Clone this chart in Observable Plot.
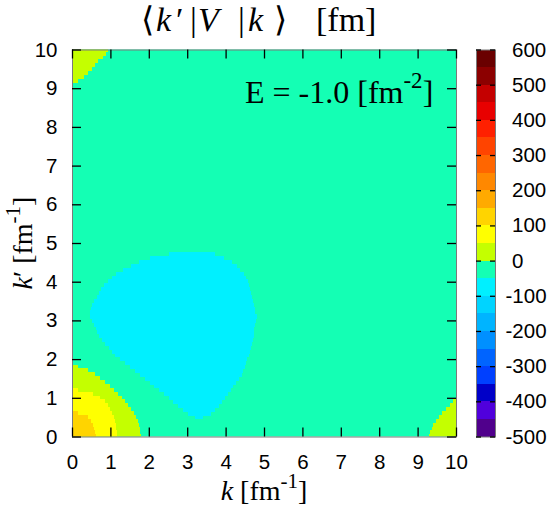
<!DOCTYPE html>
<html><head><meta charset="utf-8">
<script src="https://cdn.jsdelivr.net/npm/d3@7"></script>
<script src="https://cdn.jsdelivr.net/npm/@observablehq/plot@0.6"></script>
<style>
body{margin:0;background:#fff;}
#wrap{position:relative;width:548px;height:505px;overflow:hidden;background:#fff;}
#main,#cbar{position:absolute;top:0;}
#main{left:0}
#cbar{left:440px}
#over{position:absolute;left:0;top:0;pointer-events:none}
</style></head><body>
<div id="wrap"><div id="main"></div><div id="cbar"></div><svg id="over" width="548" height="505"></svg></div>
<script>
// ---- data ----
const xTicks = [0,1,2,3,4,5,6,7,8,9,10];
const yTicks = [0,1,2,3,4,5,6,7,8,9,10];
const cbTicks = [-500,-400,-300,-200,-100,0,100,200,300,400,500,600];
const bandEdges = [-500,-450,-400,-350,-300,-250,-200,-150,-100,-50,0,50,100,150,200,250,300,350,400,450,500,550,600];
const bandColors = ["#50008c","#5000dc","#0000c8","#0040ff","#0064ff","#0090ff","#00b4ff","#00d4ff","#00f0ff","#14ffb4",
  "#c4ff00","#ffff00","#ffd400","#ffaa00","#ff8800","#ff6600","#ff4400","#ff2000","#e80000","#c40000","#8c0000","#6a0000"];

// background band value (mint, -50..0)
const backgroundValue = -25;
// region values (band mid)
const cyanValue = -75, greenYellowValue = 25, yellowValue = 75, goldValue = 125;
// rows: [k', k from, k to]
const cyanRows = [
 [4.7,2.53,3.71],[4.6,2.05,3.96],[4.5,1.74,4.16],[4.4,1.54,4.28],[4.3,1.33,4.37],[4.2,1.15,4.46],[4.1,1.05,4.53],
 [4.0,0.95,4.57],[3.9,0.85,4.60],[3.8,0.77,4.64],[3.7,0.71,4.66],[3.6,0.65,4.68],[3.5,0.59,4.70],[3.4,0.54,4.73],
 [3.3,0.49,4.75],[3.2,0.47,4.77],[3.1,0.47,4.80],[3.0,0.52,4.78],[2.9,0.57,4.76],[2.8,0.62,4.74],[2.7,0.67,4.73],
 [2.6,0.72,4.72],[2.5,0.80,4.70],[2.4,0.88,4.69],[2.3,0.96,4.66],[2.2,1.04,4.63],[2.1,1.14,4.60],[2.0,1.27,4.56],
 [1.9,1.39,4.53],[1.8,1.52,4.49],[1.7,1.64,4.45],[1.6,1.77,4.41],[1.5,1.90,4.35],[1.4,2.03,4.27],[1.3,2.15,4.19],
 [1.2,2.28,4.12],[1.1,2.40,4.05],[1.0,2.53,3.97],[0.9,2.65,3.90],[0.8,2.78,3.81],[0.7,2.90,3.71],[0.6,3.03,3.60],[0.5,3.20,3.40]
];
const greenYellowRows = [
 [0.0,0,1.78],[0.1,0,1.77],[0.2,0,1.76],[0.3,0,1.74],[0.4,0,1.71],[0.5,0,1.66],[0.6,0,1.60],[0.7,0,1.54],[0.8,0,1.46],
 [0.9,0,1.38],[1.0,0,1.30],[1.1,0,1.20],[1.2,0,1.09],[1.3,0,0.97],[1.4,0,0.85],[1.5,0,0.71],[1.6,0,0.59],[1.7,0,0.42],[1.8,0,0.15],
 [9.2,0,0.15],[9.3,0,0.30],[9.4,0,0.40],[9.5,0,0.50],[9.6,0,0.58],[9.7,0,0.67],[9.8,0,0.80],[9.9,0,0.88],[10.0,0,0.92],
 [0.0,9.30,10],[0.1,9.32,10],[0.2,9.37,10],[0.3,9.42,10],[0.4,9.48,10],[0.5,9.56,10],[0.6,9.65,10],[0.7,9.74,10],[0.8,9.84,10],[0.9,9.93,10]
];
const yellowRows = [
 [0.0,0,1.17],[0.1,0,1.16],[0.2,0,1.15],[0.3,0,1.14],[0.4,0,1.12],[0.5,0,1.09],[0.6,0,1.04],[0.7,0,0.99],[0.8,0,0.92],
 [0.9,0,0.84],[1.0,0,0.73],[1.1,0,0.55],[1.2,0,0.15]
];
const goldRows = [
 [0.0,0,0.61],[0.1,0,0.60],[0.2,0,0.57],[0.3,0,0.54],[0.4,0,0.49],[0.5,0,0.40],[0.6,0,0.15]
];

// ---- build ----
const half = 0.05;
const toCells = (rows, v) => rows.map(([kp, a, b]) => ({x1: a, x2: b, y1: kp - half, y2: kp + half, v}));
const cells = [
  ...toCells(greenYellowRows, greenYellowValue),
  ...toCells(yellowRows, yellowValue),
  ...toCells(goldRows, goldValue),
  ...toCells(cyanRows, cyanValue)
];
const colorSpec = {type: "threshold", domain: bandEdges.slice(1, -1), range: bandColors};
const sans = "'Liberation Sans', Arial, Helvetica, sans-serif";
const frameColor = "#7a7a7a";

// layout
const W = 548, H = 505, mL = 72, mR = 92, mT = 49.5, mB = 68.5;
const plotW = W - mL - mR, plotH = H - mT - mB, tick = 9;
const tickStyle = {stroke: "#000", strokeWidth: 1.3};

const main = Plot.plot({
  width: W, height: H,
  marginLeft: mL, marginRight: mR, marginTop: mT, marginBottom: mB,
  style: {fontFamily: sans, fontSize: "20.5px", background: "transparent", overflow: "visible", color: "#000"},
  x: {domain: [0, 10]},
  y: {domain: [0, 10]},
  color: colorSpec,
  marks: [
    Plot.rect([{v: backgroundValue}], {fill: "v"}),
    Plot.rect(cells, {x1: "x1", x2: "x2", y1: "y1", y2: "y2", fill: "v", clip: true, shapeRendering: "crispEdges", inset: -0.3}),
    Plot.frame({stroke: frameColor}),
    Plot.ruleX(xTicks, {x: d => d, insetTop: plotH - tick, ...tickStyle}),
    Plot.ruleX(xTicks, {x: d => d, insetBottom: plotH - tick, ...tickStyle}),
    Plot.ruleY(yTicks, {y: d => d, insetRight: plotW - tick, ...tickStyle}),
    Plot.ruleY(yTicks, {y: d => d, insetLeft: plotW - tick, ...tickStyle}),
    Plot.axisX(xTicks, {anchor: "bottom", tickSize: 0, tickPadding: 17, label: null}),
    Plot.axisY(yTicks, {anchor: "left", tickSize: 0, tickPadding: 15, label: null})
  ]
});
document.getElementById("main").append(main);

const bands = bandEdges.slice(0, -1).map((lo, i) => ({lo, hi: bandEdges[i + 1], mid: (lo + bandEdges[i + 1]) / 2}));
const cbW = 19, cbTick = 5;
const cbar = Plot.plot({
  width: 108, height: H,
  marginLeft: 36, marginRight: 108 - 36 - cbW, marginTop: mT, marginBottom: mB,
  style: {fontFamily: sans, fontSize: "20.5px", background: "transparent", overflow: "visible", color: "#000"},
  y: {domain: [-500, 600], axis: null},
  color: colorSpec,
  marks: [
    Plot.barY(bands, {y1: "lo", y2: "hi", fill: "mid", inset: 0, shapeRendering: "crispEdges"}),
    Plot.frame({stroke: frameColor}),
    Plot.ruleY(cbTicks, {y: d => d, insetRight: cbW - cbTick, ...tickStyle}),
    Plot.ruleY(cbTicks, {y: d => d, insetLeft: cbW - cbTick, ...tickStyle}),
    Plot.text(cbTicks.filter(d => d < 0), {y: d => d, text: d => String(d), frameAnchor: "right", textAnchor: "start", dx: 10}),
    Plot.text(cbTicks.filter(d => d >= 0), {y: d => d, text: d => String(d), frameAnchor: "right", textAnchor: "start", dx: 16.5})
  ]
});
document.getElementById("cbar").append(cbar);

// ---- labels ----
const over = d3.select("#over");
const serif = "'Liberation Serif', 'Times New Roman', serif";
function label(parts, attrs) {
  const t = over.append("text").attr("font-family", serif).style("white-space", "pre");
  for (const [k, v] of Object.entries(attrs)) t.attr(k, v);
  for (const p of parts) {
    const s = t.append("tspan").text(p.t);
    if (p.i) s.attr("font-style", "italic");
    if (p.fs) s.attr("font-size", p.fs);
    if (p.dy) s.attr("dy", p.dy);
    if (p.x != null) s.attr("x", p.x);
  }
  return t;
}
// title pieces placed at the positions measured on the reference
label([{t: "\u27E8", x: 141}, {t: "k", i: 1, x: 156}, {t: "\u2032", x: 176}, {t: "|", x: 190}, {t: "V", i: 1, x: 198},
       {t: "|", x: 238}, {t: "k", i: 1, x: 248}, {t: "\u27E9", x: 274}, {t: "[fm]", x: 316}],
  {y: 31, "text-anchor": "start", "font-size": 34});
label([{t: "E = -1.0 [fm"}, {t: "-2", fs: 23, dy: -15}, {t: "]", dy: 15}],
  {x: 245, y: 103, "text-anchor": "start", "font-size": 32});
label([{t: "k", i: 1}, {t: " [fm"}, {t: "-1", fs: 21, dy: -12}, {t: "]", dy: 12}],
  {x: 264, y: 500, "text-anchor": "middle", "font-size": 28});
label([{t: "k", i: 1}, {t: "\u2032 [fm"}, {t: "-1", fs: 21, dy: -12}, {t: "]", dy: 12}],
  {transform: "translate(32,243) rotate(-90)", "text-anchor": "middle", "font-size": 28});
</script></body></html>
